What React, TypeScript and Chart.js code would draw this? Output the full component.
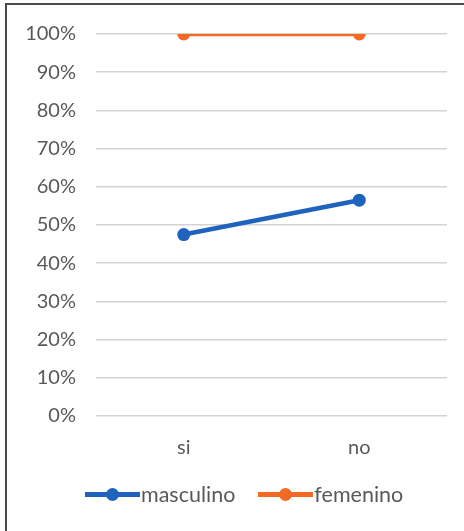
import React, { useEffect, useRef } from "react";
import { Chart, registerables } from "chart.js";

Chart.register(...registerables);

const categories = ["si", "no"];
const seriesNames = ["masculino", "femenino"];
const masculino = [47.5, 56.5];
const femenino = [100, 100];
const seriesColors = ["#1F63BE", "#F26A24"];
const yTicks = [0, 10, 20, 30, 40, 50, 60, 70, 80, 90, 100];

const FONT = "Lato, 'Open Sans', sans-serif";
const TEXT = "#595959";
const FS = 20;

export default function App() {
  const ref = useRef<HTMLCanvasElement | null>(null);

  useEffect(() => {
    document.body.style.margin = "0";
    const ctx = ref.current!;
    const chart = new Chart(ctx, {
      type: "line",
      data: {
        labels: categories,
        datasets: [masculino, femenino].map((d, i) => ({
          label: seriesNames[i],
          data: d,
          borderColor: seriesColors[i],
          backgroundColor: seriesColors[i],
          borderWidth: 4.5,
          pointRadius: 6.5,
          pointHoverRadius: 6.5,
          pointBorderWidth: 0,
          tension: 0,
        })),
      },
      options: {
        animation: false,
        responsive: false,
        maintainAspectRatio: false,
        layout: { padding: { top: 34, right: 17, left: 0, bottom: 0 } },
        plugins: {
          legend: { display: false },
          tooltip: { enabled: false },
        },
        scales: {
          x: {
            offset: true,
            grid: { display: false, drawTicks: false },
            border: { display: false },
            ticks: { color: TEXT, font: { family: FONT, size: FS }, padding: 20 },
            afterFit: (s: any) => {
              s.height = 115;
            },
          },
          y: {
            min: 0,
            max: 100,
            afterBuildTicks: (s: any) => {
              s.ticks = yTicks.map((v) => ({ value: v }));
            },
            grid: { color: "#D6D2D2", lineWidth: 1.5, drawTicks: false },
            border: { display: false },
            ticks: {
              color: TEXT,
              font: { family: FONT, size: FS },
              padding: 20,
              callback: (v: any) => v + "%",
            },
            afterFit: (s: any) => {
              s.width = 96;
            },
          },
        },
      },
    });
    return () => chart.destroy();
  }, []);

  return (
    <div style={{ position: "relative", width: 464, height: 531, background: "#fff", overflow: "hidden" }}>
      <div
        style={{
          position: "absolute",
          left: 5,
          top: 3,
          width: 470,
          height: 540,
          borderLeft: "2px solid #4a4a4a",
          borderTop: "2px solid #4a4a4a",
        }}
      />
      <canvas ref={ref} width={464} height={531} style={{ position: "absolute", left: 0, top: 0 }} />
      <div
        style={{
          position: "absolute",
          top: 481,
          left: 85,
          display: "flex",
          gap: 23,
          fontFamily: FONT,
          fontSize: 21.5,
          color: TEXT,
        }}
      >
        {seriesNames.map((n, i) => (
          <div key={n} style={{ display: "flex", alignItems: "center" }}>
            <span style={{ position: "relative", width: 55, height: 26, display: "inline-block" }}>
              <span
                style={{
                  position: "absolute",
                  left: 0,
                  right: 0,
                  top: 11,
                  height: 4.5,
                  background: seriesColors[i],
                }}
              />
              <span
                style={{
                  position: "absolute",
                  left: 21,
                  top: 7,
                  width: 13,
                  height: 13,
                  borderRadius: 7,
                  background: seriesColors[i],
                }}
              />
            </span>
            <span style={{ marginLeft: 1 }}>{n}</span>
          </div>
        ))}
      </div>
    </div>
  );
}
